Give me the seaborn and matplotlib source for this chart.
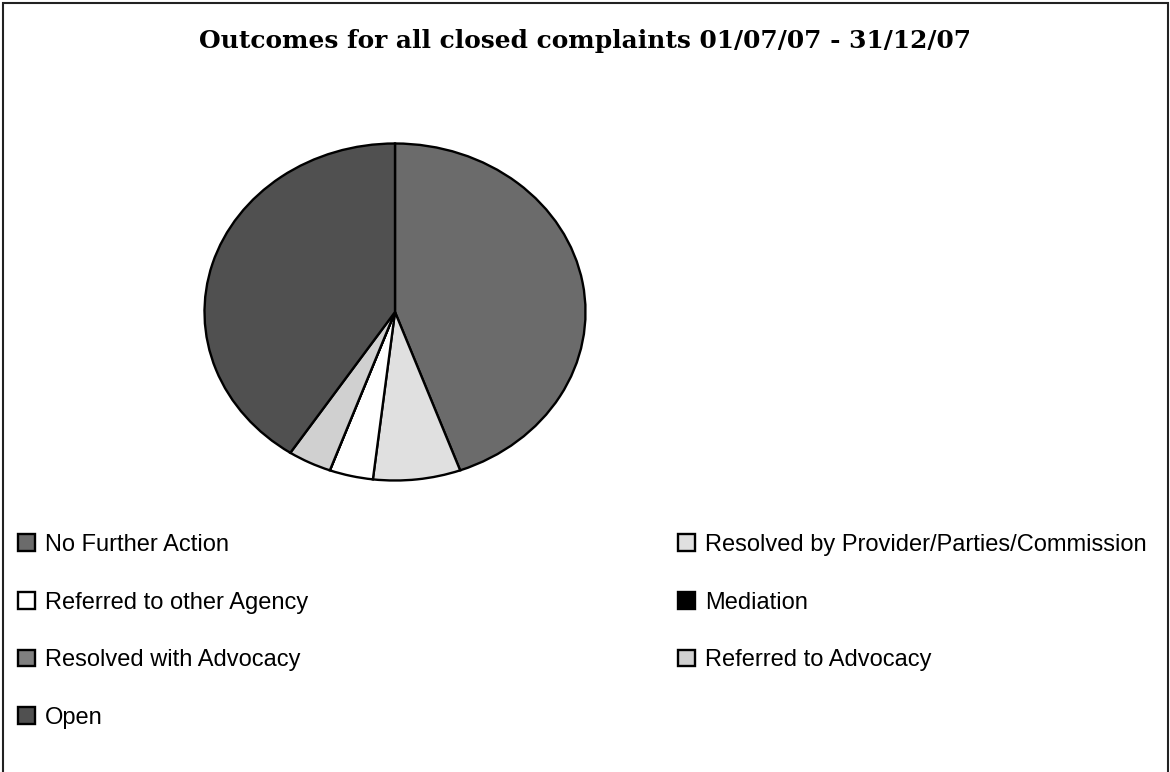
import matplotlib
matplotlib.use("Agg")
import matplotlib.pyplot as plt
from matplotlib.patches import Rectangle
import seaborn as sns

# Complaint outcomes, counts per category
categories = [
    "No Further Action",
    "Resolved by Provider/Parties/Commission",
    "Referred to other Agency",
    "Mediation",
    "Resolved with Advocacy",
    "Referred to Advocacy",
    "Open",
]
counts = [12, 2, 1, 0, 0, 1, 11]
colors = ["#6b6b6b", "#e0e0e0", "#ffffff", "#000000", "#808080", "#d0d0d0", "#505050"]
title = "Outcomes for all closed complaints 01/07/07 - 31/12/07"

sns.set_theme(style="white", rc={"text.color": "black"})
plt.rcParams["font.family"] = ["Liberation Sans", "DejaVu Sans"]

W, H = 1170, 772
fig = plt.figure(figsize=(W / 100, H / 100), dpi=100)
fig.patch.set_facecolor("white")

# outer frame of the chart area
fig.add_artist(Rectangle((3 / W, -0.05), (1168 - 3) / W, (H - 3) / H + 0.05,
                         transform=fig.transFigure, fill=False,
                         edgecolor="#222222", linewidth=1.5))

fig.text(585 / W, 1 - 41 / H, title, ha="center", va="center", color="black",
         fontsize=17.9, fontweight="bold", family=["DejaVu Serif"])

# elliptical pie
cx, cy, rx, ry = 395, 312, 190.5, 168.5
ax = fig.add_axes([(cx - rx) / W, 1 - (cy + ry) / H, 2 * rx / W, 2 * ry / H])
wedges, _ = ax.pie(counts, colors=colors, startangle=90, counterclock=False,
                   wedgeprops=dict(edgecolor="black", linewidth=1.7))
ax.set_aspect("auto")
ax.set_xlim(-1, 1)
ax.set_ylim(-1, 1)
ax.axis("off")

# legend in two columns, row-major order
left_idx = [0, 2, 4, 6]
right_idx = [1, 3, 5]
common = dict(frameon=False, fontsize=17, handlelength=0.7, handleheight=0.7,
              handletextpad=0.45, labelspacing=1.51, borderpad=0, borderaxespad=0,
              loc="upper left", labelcolor="black")
leg1 = fig.legend([wedges[i] for i in left_idx], [categories[i] for i in left_idx],
                  bbox_to_anchor=(18 / W, 1 - 534 / H), **common)
leg2 = fig.legend([wedges[i] for i in right_idx], [categories[i] for i in right_idx],
                  bbox_to_anchor=(678 / W, 1 - 534 / H), **common)

fig.savefig("out.png", dpi=100, facecolor="white")
